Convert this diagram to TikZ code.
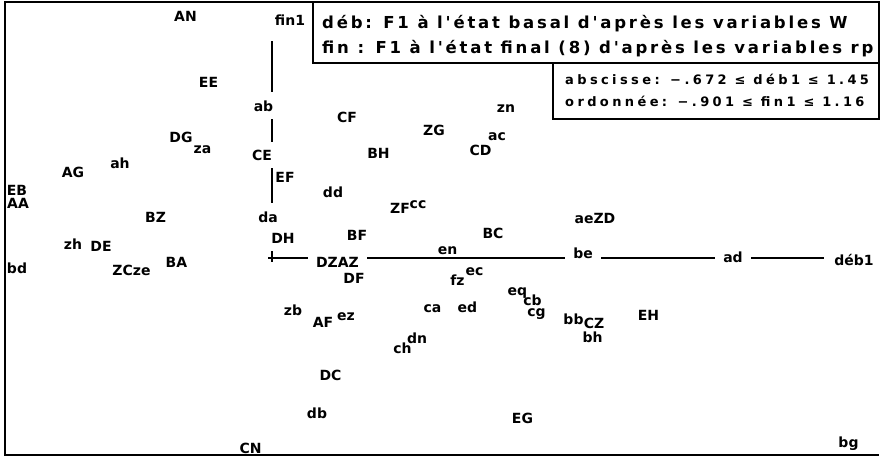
\documentclass[tikz,border=0pt]{standalone}
\usepackage{fontspec}
\setmainfont{DejaVu Sans}
\newfontfamily\titlefont[LetterSpace=17]{DejaVu Sans}
\newfontfamily\rangefont[LetterSpace=26]{DejaVu Sans}
\usepackage{tikz}

\tikzset{
	lbl/.style={font=\bfseries\fontsize{14}{16}\selectfont, anchor=base, inner sep=0pt},
	cut/.style={lbl, fill=white, inner xsep=8pt, inner ysep=8pt},
	head/.style={anchor=base west, inner sep=0pt, font=\titlefont\bfseries\fontsize{16.5}{19}\selectfont},
	bounds/.style={anchor=base west, inner sep=0pt, font=\rangefont\bfseries\fontsize{13}{15}\selectfont},
	frame/.style={line width=1.5pt},
	axis/.style={line width=1.5pt}
}

\begin{document}
\begin{tikzpicture}[x=1pt, y=-1pt]
	
	\useasboundingbox (0,0) rectangle (880,456);
	
	% cadre et encadres
	\draw[frame] (879,2) -- (5,2) -- (5,455) -- (879,455);
	\draw[frame] (313,2) rectangle (879,63);
	\draw[frame] (553,63) rectangle (879,119);
	
	\node[head] (title1) at (322,28) {déb: F1 à l'état basal d'après les variables W};
	\node[head] (title2) at (322,53) {fin : F1 à l'état final (8) d'après les variables rp};
	\node[bounds] (bounds1) at (565,84) {abscisse: −.672 ≤ déb1 ≤ 1.45};
	\node[bounds] (bounds2) at (565,106) {ordonnée: −.901 ≤ fin1 ≤ 1.16};
	
	% axes
	\coordinate (origin) at (272,258);
	\node[lbl] (fin1) at (290,25)  {fin1};
	\node[lbl] (deb1) at (854,265) {déb1};
	
	\draw[axis, shorten >=16pt] (origin) -- (origin |- fin1.south);
	\draw[axis, shorten >=10pt] (origin) -- (origin -| deb1.west);
	\draw[axis] (origin) ++(-4,0) -- ++(8,0);
	\draw[axis] (origin) ++(0,-4) -- ++(0,8);
	
	% points
	\node[lbl] (AN)   at (185.5,21)  {AN};
	\node[lbl] (EE)   at (208.5,87)  {EE};
	\node[cut] (ab)   at (263.5,111) {ab};
	\node[lbl] (DG)   at (181,142)   {DG};
	\node[lbl] (za)   at (202.5,153) {za};
	\node[cut] (CE)   at (262,160)   {CE};
	\node[lbl] (AG)   at (73,177)    {AG};
	\node[lbl] (ah)   at (120,168)   {ah};
	\node[lbl] (EF)   at (285,182)   {EF};
	\node[lbl] (EB)   at (17,195)    {EB};
	\node[lbl] (AA)   at (18,208)    {AA};
	\node[lbl] (BZ)   at (155.5,222) {BZ};
	\node[cut] (da)   at (268,222)   {da};
	\node[lbl] (CF)   at (347,122)   {CF};
	\node[lbl] (zn)   at (506,112)   {zn};
	\node[lbl] (ZG)   at (434,135)   {ZG};
	\node[lbl] (ac)   at (497,140)   {ac};
	\node[lbl] (CD)   at (480.5,155) {CD};
	\node[lbl] (BH)   at (378.5,158) {BH};
	\node[lbl] (dd)   at (333,197)   {dd};
	\node[lbl] (ZF)   at (400,213)   {ZF};
	\node[lbl] (cc)   at (418,208)   {cc};
	\node[lbl] (aeZD) at (595,223)   {aeZD};
	\node[lbl] (zh)   at (73,249)    {zh};
	\node[lbl] (DE)   at (101,251)   {DE};
	\node[lbl] (bd)   at (17,273)    {bd};
	\node[lbl] (ZCze) at (131.5,275) {ZCze};
	\node[lbl] (BA)   at (176.5,267) {BA};
	\node[cut] (DH)   at (283,243)   {DH};
	\node[lbl] (CN)   at (250.5,453) {CN};
	\node[lbl] (BF)   at (357,240)   {BF};
	\node[lbl] (BC)   at (493,238)   {BC};
	\node[lbl] (en)   at (447.5,254) {en};
	\node[cut] (DZAZ) at (337.5,267) {DZAZ};
	\node[lbl] (DF)   at (354,283)   {DF};
	\node[lbl] (fz)   at (457.5,285) {fz};
	\node[lbl] (ec)   at (474.5,275) {ec};
	\node[lbl] (eq)   at (517.5,295) {eq};
	\node[lbl] (cb)   at (532.5,305) {cb};
	\node[lbl] (cg)   at (536.5,316) {cg};
	\node[lbl] (ca)   at (432.5,312) {ca};
	\node[lbl] (ed)   at (467.5,312) {ed};
	\node[lbl] (zb)   at (293,315)   {zb};
	\node[lbl] (AF)   at (323,327)   {AF};
	\node[lbl] (ez)   at (346,320)   {ez};
	\node[lbl] (dn)   at (417,343)   {dn};
	\node[lbl] (ch)   at (402.5,353) {ch};
	\node[lbl] (DC)   at (330.5,380) {DC};
	\node[lbl] (db)   at (317,418)   {db};
	\node[lbl] (EG)   at (522.5,423) {EG};
	\node[cut] (be)   at (583,258)   {be};
	\node[cut] (ad)   at (733,262)   {ad};
	\node[lbl] (bb)   at (573.5,324) {bb};
	\node[lbl] (CZ)   at (594,328)   {CZ};
	\node[lbl] (bh)   at (592.5,342) {bh};
	\node[lbl] (EH)   at (648.5,320) {EH};
	\node[lbl] (bg)   at (848.5,447) {bg};
	
\end{tikzpicture}
\end{document}
